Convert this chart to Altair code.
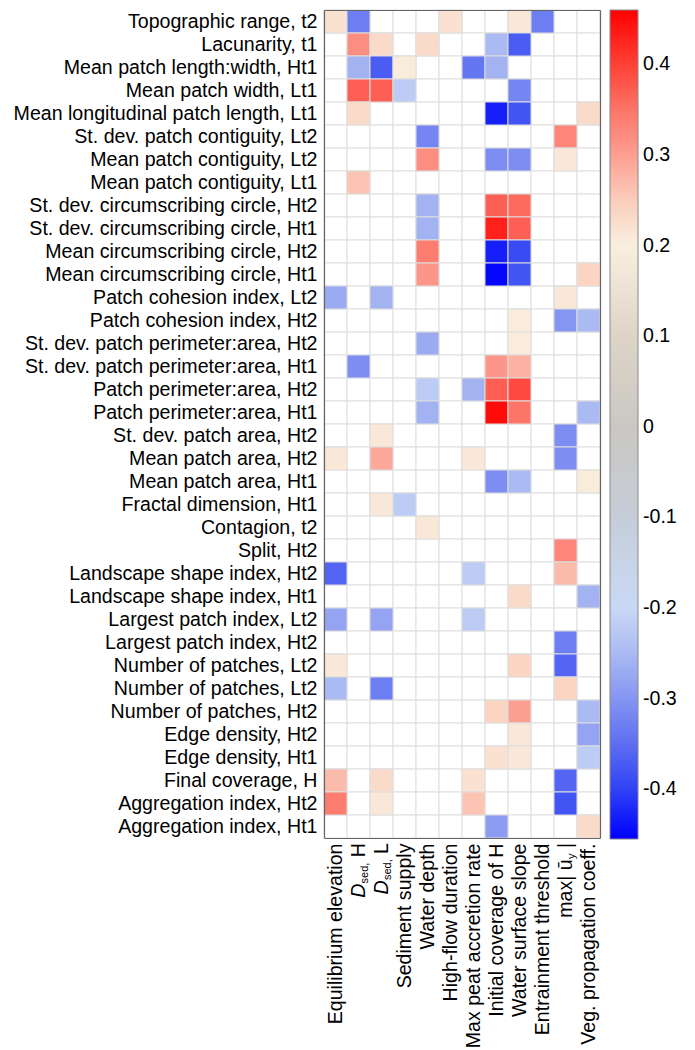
import json
import altair as alt
import pandas as pd

FONT = "Liberation Sans"
FS = 19.6

row_labels = [
    "Topographic range, t2",
    "Lacunarity, t1",
    "Mean patch length:width, Ht1",
    "Mean patch width, Lt1",
    "Mean longitudinal patch length, Lt1",
    "St. dev. patch contiguity, Lt2",
    "Mean patch contiguity, Lt2",
    "Mean patch contiguity, Lt1",
    "St. dev. circumscribing circle, Ht2",
    "St. dev. circumscribing circle, Ht1",
    "Mean circumscribing circle, Ht2",
    "Mean circumscribing circle, Ht1",
    "Patch cohesion index, Lt2",
    "Patch cohesion index, Ht2",
    "St. dev. patch perimeter:area, Ht2",
    "St. dev. patch perimeter:area, Ht1",
    "Patch perimeter:area, Ht2",
    "Patch perimeter:area, Ht1",
    "St. dev. patch area, Ht2",
    "Mean patch area, Ht2",
    "Mean patch area, Ht1",
    "Fractal dimension, Ht1",
    "Contagion, t2",
    "Split, Ht2",
    "Landscape shape index, Ht2",
    "Landscape shape index, Ht1",
    "Largest patch index, Lt2",
    "Largest patch index, Ht2",
    "Number of patches, Lt2",
    "Number of patches, Lt2",
    "Number of patches, Ht2",
    "Edge density, Ht2",
    "Edge density, Ht1",
    "Final coverage, H",
    "Aggregation index, Ht2",
    "Aggregation index, Ht1",
]

col_labels = [
    "Equilibrium elevation",
    "D_sed, H",
    "D_sed, L",
    "Sediment supply",
    "Water depth",
    "High-flow duration",
    "Max peat accretion rate",
    "Initial coverage of H",
    "Water surface slope",
    "Entrainment threshold",
    "max|u_y|",
    "Veg. propagation coeff.",
]
rich_cols = [1, 2, 10]  # labels drawn with italics / subscripts below

# significant correlations (sparse): row index, column index, value
cell_rows = [0, 0, 0, 0, 0,
             1, 1, 1, 1, 1,
             2, 2, 2, 2, 2,
             3, 3, 3, 3,
             4, 4, 4, 4,
             5, 5,
             6, 6, 6, 6,
             7,
             8, 8, 8,
             9, 9, 9,
             10, 10, 10,
             11, 11, 11, 11,
             12, 12, 12,
             13, 13, 13,
             14, 14,
             15, 15, 15,
             16, 16, 16, 16,
             17, 17, 17, 17,
             18, 18,
             19, 19, 19, 19,
             20, 20, 20,
             21, 21,
             22,
             23,
             24, 24, 24,
             25, 25,
             26, 26, 26,
             27,
             28, 28, 28,
             29, 29, 29,
             30, 30, 30,
             31, 31,
             32, 32, 32,
             33, 33, 33, 33,
             34, 34, 34, 34,
             35, 35]
cell_cols = [0, 1, 5, 8, 9,
             1, 2, 4, 7, 8,
             1, 2, 3, 6, 7,
             1, 2, 3, 8,
             1, 7, 8, 11,
             4, 10,
             4, 7, 8, 10,
             1,
             4, 7, 8,
             4, 7, 8,
             4, 7, 8,
             4, 7, 8, 11,
             0, 2, 10,
             8, 10, 11,
             4, 8,
             1, 7, 8,
             4, 6, 7, 8,
             4, 7, 8, 11,
             2, 10,
             0, 2, 6, 10,
             7, 8, 11,
             2, 3,
             4,
             10,
             0, 6, 10,
             8, 11,
             0, 2, 6,
             10,
             0, 8, 10,
             0, 2, 10,
             7, 8, 11,
             8, 11,
             7, 8, 11,
             0, 2, 6, 10,
             0, 2, 6, 10,
             7, 11]
cell_values = [0.22, -0.33, 0.22, 0.21, -0.33,
               0.32, 0.23, 0.23, -0.25, -0.37,
               -0.26, -0.37, 0.205, -0.34, -0.26,
               0.37, 0.37, -0.22, -0.32,
               0.23, -0.43, -0.38, 0.23,
               -0.32, 0.33,
               0.32, -0.31, -0.31, 0.21,
               0.26,
               -0.26, 0.37, 0.36,
               -0.26, 0.43, 0.37,
               0.34, -0.43, -0.39,
               0.31, -0.45, -0.38, 0.24,
               -0.27, -0.26, 0.21,
               0.205, -0.30, -0.25,
               -0.27, 0.205,
               -0.31, 0.31, 0.28,
               -0.22, -0.26, 0.37, 0.39,
               -0.26, 0.45, 0.35, -0.25,
               0.21, -0.31,
               0.21, 0.29, 0.21, -0.31,
               -0.31, -0.25, 0.205,
               0.21, -0.22,
               0.21,
               0.33,
               -0.36, -0.22, 0.27,
               0.23, -0.26,
               -0.28, -0.28, -0.22,
               -0.33,
               0.21, 0.24, -0.36,
               -0.25, -0.33, 0.24,
               0.24, 0.30, -0.25,
               0.21, -0.28,
               0.22, 0.21, -0.22,
               0.27, 0.23, 0.22, -0.36,
               0.34, 0.21, 0.26, -0.38,
               -0.29, 0.23]

legend_ticks = [-0.4, -0.3, -0.2, -0.1, 0, 0.1, 0.2, 0.3, 0.4]

# colour map (style)
cmap_stops = [-0.455, -0.4, -0.35, -0.3, -0.25, -0.2, -0.1, 0, 0.1, 0.2, 0.25, 0.3, 0.35, 0.4, 0.46]
cmap_colors = ["#0000ff", "#3142f5", "#5d6ef2", "#8595f2", "#aabaf2", "#c8d8f6",
               "#c5cdd8", "#cac7c2", "#ddd4c7", "#f9efdf", "#fbcdbb", "#fc9f92",
               "#fd7468", "#fe4036", "#ff0000"]

nrow, ncol = len(row_labels), len(col_labels)
W, H = 23 * ncol, 23 * nrow

grid = pd.DataFrame([(r, c) for r in range(nrow) for c in range(ncol)], columns=["row", "col"])
cells = pd.DataFrame({"row": cell_rows, "col": cell_cols, "r": cell_values})

axis_x_labels = ["" if i in rich_cols else t for i, t in enumerate(col_labels)]

xscale = alt.Scale(domain=list(range(ncol)), paddingInner=0, paddingOuter=0)
yscale = alt.Scale(domain=list(range(nrow)), paddingInner=0, paddingOuter=0)

x_bottom = alt.X("col:O", scale=xscale, axis=alt.Axis(
    title=None, orient="bottom", labelAngle=270, labelAlign="right", labelBaseline="middle",
    labelFont=FONT, labelFontSize=FS, labelColor="black", labelPadding=5,
    labelLimit=400, ticks=False, tickSize=0, domain=True, domainColor="#666",
    domainWidth=1.2, zindex=1, labelExpr=json.dumps(axis_x_labels) + "[datum.value]"))
y_left = alt.Y("row:O", scale=yscale, axis=alt.Axis(
    title=None, orient="left", labelFont=FONT, labelFontSize=FS, labelColor="black",
    labelPadding=7, labelLimit=400, ticks=False, tickSize=0, domain=True,
    domainColor="#666", domainWidth=1.2, zindex=1,
    labelExpr=json.dumps(row_labels) + "[datum.value]"))
x_top = alt.X("col:O", scale=xscale, axis=alt.Axis(
    title=None, orient="top", labels=False, ticks=False, tickSize=0, domain=True,
    domainColor="#666", domainWidth=1.2, zindex=1))
y_right = alt.Y("row:O", scale=yscale, axis=alt.Axis(
    title=None, orient="right", labels=False, ticks=False, tickSize=0, domain=True,
    domainColor="#666", domainWidth=1.2, zindex=1))

bg = alt.Chart(grid).mark_rect(fill="white", stroke="#dedede", strokeWidth=1).encode(
    x=x_bottom, y=y_left)

heat = alt.Chart(cells).mark_rect(stroke="#dedede", strokeWidth=1).encode(
    x=x_top, y=y_right,
    color=alt.Color("r:Q", scale=alt.Scale(domain=cmap_stops, range=cmap_colors, interpolate="rgb"),
                    legend=alt.Legend(
                        title=None, orient="right", direction="vertical", offset=10,
                        values=legend_ticks, gradientLength=H + 1, gradientThickness=28,
                        gradientStrokeColor="#888", gradientStrokeWidth=1,
                        labelFont=FONT, labelFontSize=FS, labelColor="black",
                        labelOffset=5, labelLimit=200, padding=0,
                        labelExpr="datum.value == 0 ? '0' : toString(round(datum.value*10)/10)")))


def piece(col, text, dx, size, dy=0, italic=False):
    return alt.Chart(pd.DataFrame({"col": [col], "t": [text]})).mark_text(
        angle=270, align="right", baseline="middle", dx=dx, dy=dy, fontSize=size,
        font=FONT, fontStyle="italic" if italic else "normal", color="black").encode(
        x=alt.X("col:O", scale=xscale, axis=None), y=alt.value(H + 5), text="t:N")


SUB = 11
rich = [
    piece(1, " H", 0, FS), piece(1, "sed,", -19.6, SUB, dy=6), piece(1, "D", -40.6, FS, italic=True),
    piece(2, " L", 0, FS), piece(2, "sed,", -16.3, SUB, dy=6), piece(2, "D", -37.3, FS, italic=True),
    piece(10, " |", 0, FS), piece(10, "y", -10.5, SUB, dy=6), piece(10, "max| ū", -16.3, FS),
]

chart = alt.layer(bg, heat, *rich).resolve_axis(x="independent", y="independent").properties(
    width=W, height=H, padding={"left": 5, "top": 1, "right": 5, "bottom": 2}
).configure_view(stroke=None)

chart.save("out.html", embed_options={"renderer": "svg", "actions": False})
